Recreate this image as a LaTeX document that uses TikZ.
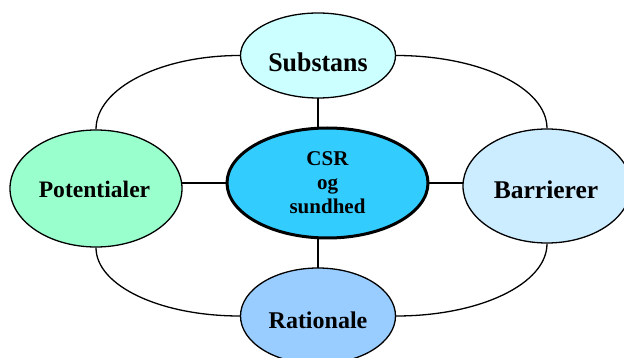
\documentclass[tikz,border=0pt]{standalone}
\usepackage{fontspec}
\setmainfont{Liberation Serif}
\usetikzlibrary{shapes.geometric,backgrounds}
\definecolor{subfill}{HTML}{CCFFFF}
\definecolor{potfill}{HTML}{99FFCC}
\definecolor{csrfill}{HTML}{33CCFF}
\definecolor{barfill}{HTML}{CCECFF}
\definecolor{ratfill}{HTML}{99CCFF}
\begin{document}
\begin{tikzpicture}[x=1pt,y=-1pt,
  bubble/.style={ellipse,draw=black,line width=1.3pt,inner sep=0pt},
  lbl/.style={anchor=base,inner sep=0pt,font=\bfseries},
  hub/.style={ellipse,draw=black,line width=3pt,inner sep=0pt,align=center,
    font=\bfseries\fontsize{21}{24}\selectfont},
  spoke/.style={line width=2pt},
  ring/.style={line width=1.3pt}]
\useasboundingbox (0,0) rectangle (624,358);
\clip (0,0) rectangle (624,358);

% the four outer bubbles
\node[bubble,fill=subfill,minimum width=155pt,minimum height=85pt] (sub) at (318,55.5) {};
\node[bubble,fill=potfill,minimum width=172pt,minimum height=117pt] (pot) at (96,188.5) {};
\node[bubble,fill=barfill,minimum width=168pt,minimum height=114pt] (bar) at (547,186) {};
\node[bubble,fill=ratfill,minimum width=155pt,minimum height=96pt] (rat) at (318,316) {};

% their labels, set on their own baselines
\node[lbl] (subtxt) at (318,71.7) {\fontsize{27}{30}\selectfont\scalebox{0.96}[1]{Substans}};
\node[lbl] (pottxt) at (94.5,197.3) {\fontsize{23.6}{28}\selectfont Potentialer};
\node[lbl] (bartxt) at (546,198.3) {\fontsize{25.5}{30}\selectfont Barrierer};
\node[lbl] (rattxt) at (318,328) {\fontsize{24}{28}\selectfont Rationale};

% the hub
\node[hub,fill=csrfill,minimum width=201pt,minimum height=110pt] (csr) at (327.5,183) {CSR\\og\\sundhed};

\begin{scope}[on background layer]
  % spokes from the hub to each bubble
  \draw[spoke] (sub.center) -- (sub.center |- csr.center);
  \draw[spoke] (rat.center) -- (rat.center |- csr.center);
  \draw[spoke] (pot.center |- csr.center) -- (csr.center);
  \draw[spoke] (csr.center) -- (bar.center |- csr.center);
\end{scope}

% outer ring of quarter-ellipse arcs
\draw[ring] (sub.west) .. controls +(-79.5,0) and +(0,-41) .. (pot.north);
\draw[ring] (sub.east) .. controls +(83.7,0) and +(0,-40.6) .. (bar.north);
\draw[ring] (pot.south) .. controls +(0,38) and +(-79.8,0) .. (rat.west);
\draw[ring] (bar.south) .. controls +(0,40.3) and +(83.7,0) .. (rat.east);
\end{tikzpicture}
\end{document}
